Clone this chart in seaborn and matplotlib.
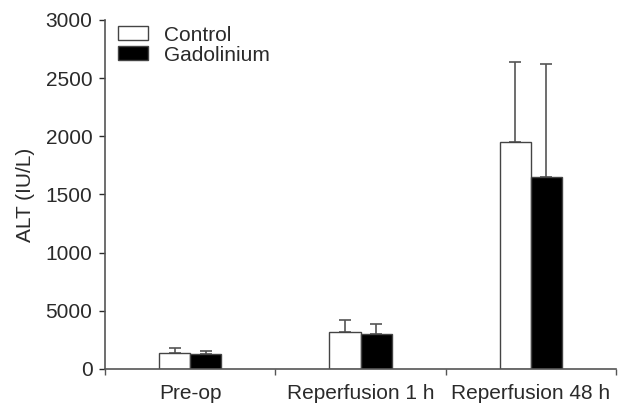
import matplotlib
matplotlib.use("Agg")
import matplotlib.pyplot as plt
import seaborn as sns
import pandas as pd
import numpy as np
from matplotlib.ticker import FixedLocator

categories = ["Pre-op", "Reperfusion 1 h", "Reperfusion 48 h"]
groups = ["Control", "Gadolinium"]
control_vals = [140, 320, 1950]
gad_vals = [125, 305, 1650]
control_err = [40, 100, 690]
gad_err = [30, 85, 970]
yticks = [0, 500, 1000, 1500, 2000, 2500, 3000]
ytick_labels = ["0", "5000", "1000", "1500", "2000", "2500", "3000"]

df = pd.DataFrame({
    "cat": categories * 2,
    "grp": [groups[0]] * 3 + [groups[1]] * 3,
    "val": control_vals + gad_vals,
    "err": control_err + gad_err,
})

sns.set_style("ticks")
plt.rcParams["font.family"] = ["Liberation Sans", "DejaVu Sans"]

FS = 15

fig = plt.figure(figsize=(6.25, 4.08), dpi=100)
ax = fig.add_axes([0.168, 0.0956, 0.8176, 0.8554])

sns.barplot(data=df, x="cat", y="val", hue="grp", order=categories, hue_order=groups,
            palette=["white", "black"], width=0.365, errorbar=None, ax=ax,
            edgecolor="#444444", linewidth=1.0, legend=True)

# error bars (upward only) from bar patches
bars = [p for p in ax.patches if p.get_height() > 0][:6]
errs = control_err + gad_err
for p, e in zip(bars, errs):
    xc = p.get_x() + p.get_width() / 2
    h = p.get_height()
    ax.errorbar([xc], [h], yerr=[[0], [e]], fmt="none", ecolor="#555555",
                elinewidth=1.2, capsize=4.5, capthick=1.2, zorder=1)
    p.set_zorder(2)

ax.set_ylim(0, 3000)
ax.set_xlim(-0.5, 2.5)
ax.set_yticks(yticks)
ax.set_yticklabels(ytick_labels)
ax.tick_params(axis="x", which="major", length=0, pad=11)
ax.xaxis.set_minor_locator(FixedLocator([-0.5, 0.5, 1.5, 2.5]))
ax.tick_params(axis="x", which="minor", length=4, color="#555555", width=1)
ax.tick_params(axis="y", length=4.5, color="#555555", width=1, pad=4.5)
ax.tick_params(labelsize=FS, colors="#2a2a2a")
ax.set_xlabel("")
ax.set_ylabel("ALT (IU/L)", fontsize=FS, color="#2a2a2a", labelpad=8)
for s in ["top", "right"]:
    ax.spines[s].set_visible(False)
for s in ["left", "bottom"]:
    ax.spines[s].set_color("#555555")
    ax.spines[s].set_linewidth(1.2)

leg = ax.legend(loc="upper left", frameon=False, fontsize=FS, title=None,
                bbox_to_anchor=(0.0, 1.02), handlelength=1.45, handleheight=0.65,
                labelspacing=0.05, handletextpad=0.8, borderaxespad=0.2)
for t in leg.get_texts():
    t.set_color("#2a2a2a")

fig.savefig("out.png", dpi=100)
